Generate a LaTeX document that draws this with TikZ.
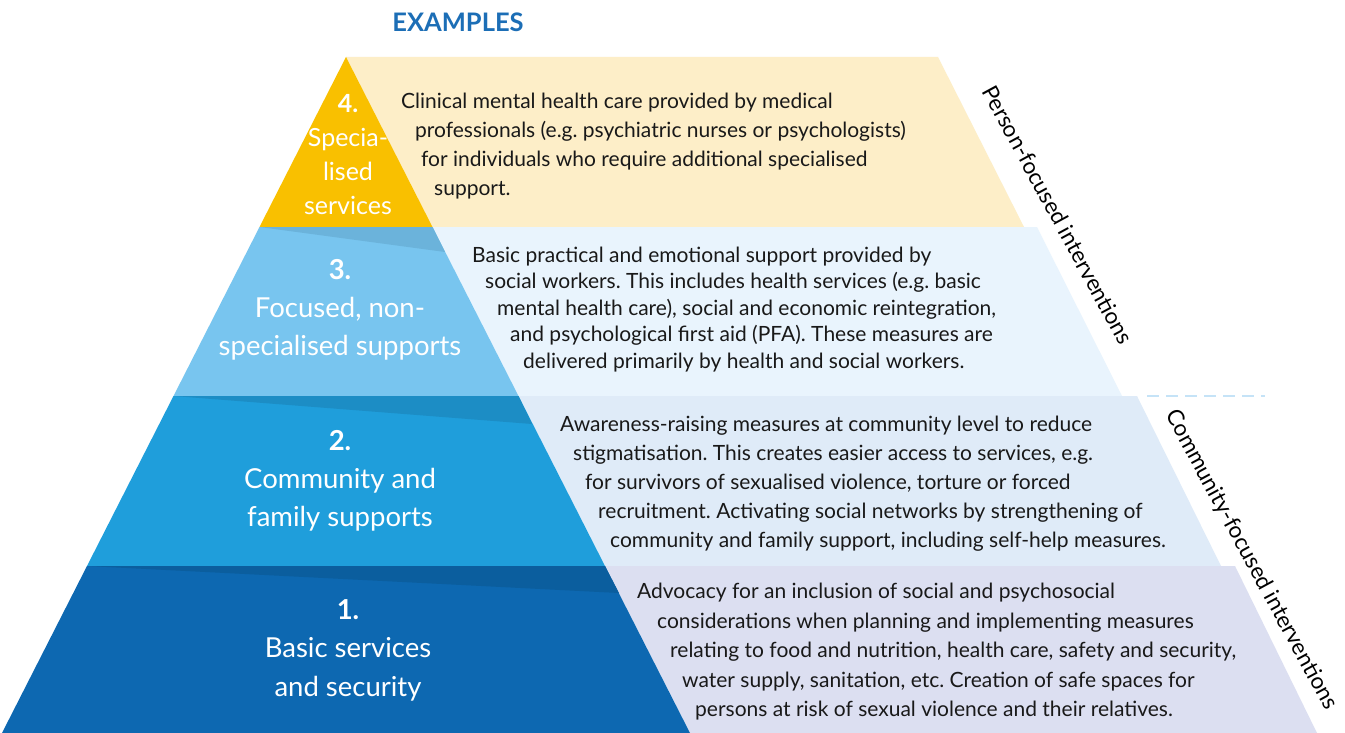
\documentclass[tikz,border=0pt]{standalone}
\usepackage{fontspec}
\setmainfont{Lato}
\frenchspacing

\definecolor{titleblue}{HTML}{1C6EB6}
\definecolor{tierfour}{HTML}{F9C000}
\definecolor{tierthree}{HTML}{78C5EF}
\definecolor{tierthreedark}{HTML}{6BB3DB}
\definecolor{tiertwo}{HTML}{1F9EDB}
\definecolor{tiertwodark}{HTML}{1C8DC5}
\definecolor{tierone}{HTML}{0D68B1}
\definecolor{tieronedark}{HTML}{0B5E9E}
\definecolor{panelfour}{HTML}{FDEEC8}
\definecolor{panelthree}{HTML}{E9F4FD}
\definecolor{paneltwo}{HTML}{DFEBF8}
\definecolor{panelone}{HTML}{DCDFF1}
\definecolor{splitline}{HTML}{C5E3F7}

\begin{document}
\begin{tikzpicture}[x=1pt, y=-1pt,
    level/.style={text=white, align=center, inner sep=0pt, font=\fontsize{27.5}{38}\selectfont},
    example/.style={align=left, anchor=north west, inner sep=0pt, text=black!90, font=\fontsize{21}{29}\selectfont},
    side/.style={rotate=-61.5, inner sep=0pt, font=\fontsize{22.5}{26}\selectfont}
]
    \useasboundingbox (0,0) rectangle (1345,733);
    \fill[white] (0,0) rectangle (1345,733);

    % Heading
    \node[font=\bfseries\fontsize{25.5}{30}\selectfont, text=titleblue] (title) at (458,22) {EXAMPLES};

    % Example panels behind the pyramid
    \fill[panelfour]  (346,57)    -- (938,57)   -- (1024,227) -- (432.5,227) -- cycle;
    \fill[panelthree] (432.5,227) -- (1037,227) -- (1122,396) -- (518.5,396) -- cycle;
    \fill[paneltwo]   (518.5,396) -- (1137,396) -- (1221,566) -- (605,566)   -- cycle;
    \fill[panelone]   (605,566)   -- (1235,566) -- (1317,733) -- (690,733)   -- cycle;

    % Pyramid tiers with their shaded top strips
    \fill[tierfour]  (346,57)    -- (432.5,227) -- (259.5,227) -- cycle;
    \fill[tierthree] (259.5,227) -- (432.5,227) -- (518.5,396) -- (173.5,396) -- cycle;
    \fill[tierthreedark] (259.5,227) -- (432.5,227) -- (445,252) -- cycle;
    \fill[tiertwo]   (173.5,396) -- (518.5,396) -- (605,566)   -- (87,566)    -- cycle;
    \fill[tiertwodark] (173.5,396) -- (518.5,396) -- (532,424) -- cycle;
    \fill[tierone]   (87,566)    -- (605,566)   -- (690,733)   -- (2,733)     -- cycle;
    \fill[tieronedark] (87,566) -- (605,566) -- (619,593) -- cycle;

    % Level names
    \node[level, font=\fontsize{25}{34}\selectfont] (lvl4) at (348,155)
        {\textbf{4.}\\Specia-\\lised\\services};
    \node[level] (lvl3) at (340,310) {\textbf{3.}\\Focused, non-\\specialised supports};
    \node[level] (lvl2) at (340,481) {\textbf{2.}\\Community and\\family supports};
    \node[level, font=\fontsize{27.5}{38.5}\selectfont] (lvl1) at (348,650) {\textbf{1.}\\Basic services\\and security};

    % Examples for each level
    \node[example] (ex4) at (401,88) {\strut Clinical mental health care provided by medical\\
        \hspace*{14pt}professionals (e.g. psychiatric nurses or psychologists)\\
        \hspace*{20pt}for individuals who require additional specialised\\
        \hspace*{33pt}support.};
    \node[example, font=\fontsize{21}{26.5}\selectfont] (ex3) at (472,243.5) {\strut Basic practical and emotional support provided by\\
        \hspace*{13pt}social workers. This includes health services (e.g. basic\\
        \hspace*{25pt}mental health care), social and economic reintegration,\\
        \hspace*{38pt}and psychological first aid (PFA). These measures are\\
        \hspace*{51pt}delivered primarily by health and social workers.};
    \node[example] (ex2) at (560,411) {\strut Awareness-raising measures at community level to reduce\\
        \hspace*{13pt}stigmatisation. This creates easier access to services, e.g.\\
        \hspace*{25pt}for survivors of sexualised violence, torture or forced\\
        \hspace*{38pt}recruitment. Activating social networks by strengthening of\\
        \hspace*{50pt}community and family support, including self-help measures.};
    \node[example, font=\fontsize{21}{29.5}\selectfont] (ex1) at (637,578) {\strut Advocacy for an inclusion of social and psychosocial\\
        \hspace*{20pt}considerations when planning and implementing measures\\
        \hspace*{33pt}relating to food and nutrition, health care, safety and security,\\
        \hspace*{45pt}water supply, sanitation, etc. Creation of safe spaces for\\
        \hspace*{58pt}persons at risk of sexual violence and their relatives.};

    % Grouping of the levels
    \node[side] (person) at (1058,215) {Person-focused interventions};
    \draw[splitline, line width=2.6pt, dash pattern=on 12pt off 7pt] (1147,396) -- (1265,396);
    \node[side] (community) at (1251,560) {Community-focused interventions};
\end{tikzpicture}
\end{document}
